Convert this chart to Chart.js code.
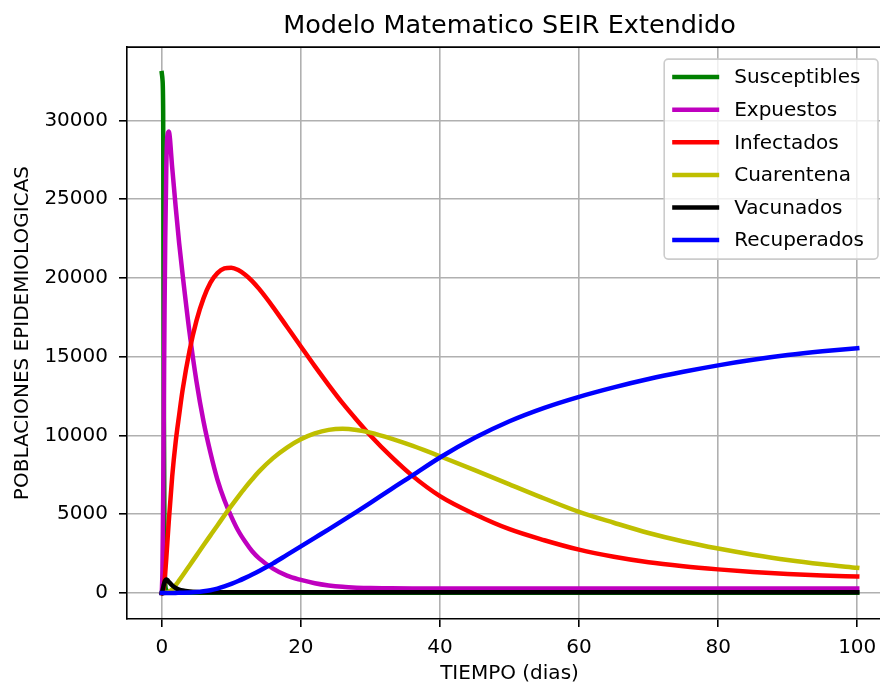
<!DOCTYPE html>
<html>
<head>
<meta charset="utf-8">
<script src="https://cdn.jsdelivr.net/npm/chart.js@4.4.0/dist/chart.umd.min.js"></script>
<style>
  html, body { margin: 0; padding: 0; background: #fff; overflow: hidden; }
  canvas { display: block; }
</style>
</head>
<body>
<canvas id="myChart" width="900" height="687"></canvas>
<script>
// tiempo (dias) - grid used for all series
const dias = [0, 0.1, 0.2, 0.3, 0.4, 0.5, 0.65, 0.8, 1, 1.5, 2, 2.5, 3, 4, 5, 6, 7, 8, 9, 10, 11, 12, 13, 14,
  16, 18, 20, 22, 24, 26, 28, 30, 33, 36, 40, 45, 50, 55, 60, 65, 70, 75, 80, 85, 90, 95, 100];

const susceptibles = [33000, 32600, 30500, 12000, 2500, 600, 200, 100, 60, 30, 20, 15, 12,
  10, 10, 10, 10, 10, 10, 10, 10, 10, 10, 10, 10, 10, 10, 10, 10, 10, 10, 10, 10, 10,
  10, 10, 10, 10, 10, 10, 10, 10, 10, 10, 10, 10, 10];
const expuestos = [0, 1500, 6000, 12000, 18000, 22500, 27000, 29000, 29300, 27000, 24500, 22200, 20200,
  16500, 13400, 10900, 8900, 7200, 5900, 4850, 3950, 3250, 2650, 2200,
  1550, 1100, 830, 620, 480, 390, 340, 310, 295, 290,
  290, 290, 290, 290, 290, 290, 290, 290, 290, 290, 290, 290, 290];
const infectados = [0, 50, 150, 400, 800, 1300, 2200, 3200, 4500, 7400, 9600, 11300, 12900,
  15400, 17300, 18700, 19700, 20300, 20600, 20650, 20500, 20200, 19800, 19300,
  18150, 16900, 15650, 14400, 13200, 12050, 11000, 10000, 8650, 7450,
  6150, 5000, 4050, 3350, 2750, 2300, 1950, 1700, 1500, 1330, 1200, 1110, 1050];
const cuarentena = [0, 0, 0, 0, 5, 10, 20, 35, 60, 230, 500, 800, 1110,
  1750, 2390, 3030, 3660, 4290, 4920, 5530, 6120, 6690, 7220, 7720,
  8560, 9230, 9755, 10130, 10355, 10425, 10350, 10180, 9800, 9350,
  8680, 7800, 6900, 6000, 5150, 4460, 3810, 3270, 2820, 2430, 2090, 1820, 1600];
const vacunados = [0, 150, 350, 550, 700, 800, 850, 820, 720, 480, 320, 220, 160,
  100, 70, 55, 50, 50, 50, 50, 50, 50, 50, 50, 50, 50, 50, 50, 50, 50, 50, 50, 50, 50,
  50, 50, 50, 50, 50, 50, 50, 50, 50, 50, 50, 50, 50];
const recuperados = [0, 0, 0, 0, 0, 0, 0, 0, 0, 2, 5, 10, 15,
  30, 60, 110, 180, 280, 420, 580, 760, 960, 1170, 1400,
  1880, 2420, 2960, 3500, 4040, 4590, 5150, 5720, 6600, 7450,
  8600, 9850, 10900, 11750, 12450, 13050, 13580, 14040, 14450, 14800, 15100, 15340, 15540];

const xTicks = [0, 20, 40, 60, 80, 100];
const yTicks = [0, 5000, 10000, 15000, 20000, 25000, 30000];

const FONT = "'DejaVu Sans', sans-serif";
Chart.defaults.font.family = FONT;
Chart.defaults.color = "#000";

function serie(label, values, color, order) {
  return {
    label: label,
    data: dias.map((t, i) => ({ x: t, y: values[i] })),
    borderColor: color,
    backgroundColor: color,
    borderWidth: 4.5,
    pointRadius: 0,
    fill: false,
    cubicInterpolationMode: "monotone",
    borderCapStyle: "square",
    borderJoinStyle: "round",
    order: order,
  };
}

// top / right spines (matplotlib box)
const spines = {
  id: "spines",
  afterDatasetsDraw(chart) {
    const { ctx, chartArea: a } = chart;
    ctx.save();
    ctx.strokeStyle = "#000";
    ctx.lineWidth = 1.6;
    ctx.beginPath();
    ctx.moveTo(a.left, a.top);
    ctx.lineTo(a.right, a.top);
    ctx.lineTo(a.right, a.bottom);
    ctx.stroke();
    ctx.restore();
  },
};

// legend drawn inside the plot, upper right
const legendBox = {
  id: "legendBox",
  afterDraw(chart) {
    const { ctx, chartArea: a } = chart;
    const sets = chart.data.datasets;
    ctx.save();
    ctx.font = "20px " + FONT;
    let textW = Math.max(...sets.map((d) => ctx.measureText(d.label).width));
    let w = 8 + 47 + 15 + textW + 14;
    let h = 200;
    let x = a.right - 14 - w;
    let y = a.top + 12;
    ctx.beginPath();
    ctx.roundRect(x, y, w, h, 4);
    ctx.fillStyle = "rgba(255,255,255,0.8)";
    ctx.fill();
    ctx.strokeStyle = "#cccccc";
    ctx.lineWidth = 1.6;
    ctx.stroke();
    sets.forEach((d, i) => {
      let cy = y + 18 + i * 32.6;
      ctx.strokeStyle = d.borderColor;
      ctx.lineWidth = 4.5;
      ctx.beginPath();
      ctx.moveTo(x + 8, cy);
      ctx.lineTo(x + 55, cy);
      ctx.stroke();
      ctx.fillStyle = "#000";
      ctx.textBaseline = "middle";
      ctx.fillText(d.label, x + 70, cy + 1);
    });
    ctx.restore();
  },
};

new Chart("myChart", {
  type: "line",
  data: {
    datasets: [
      serie("Susceptibles", susceptibles, "#008000", 6),
      serie("Expuestos", expuestos, "#bf00bf", 5),
      serie("Infectados", infectados, "#ff0000", 4),
      serie("Cuarentena", cuarentena, "#bfbf00", 3),
      serie("Vacunados", vacunados, "#000000", 2),
      serie("Recuperados", recuperados, "#0000ff", 1),
    ],
  },
  options: {
    responsive: false,
    animation: false,
    layout: { padding: { left: 0, right: 8, top: 0, bottom: 0 } },
    plugins: {
      legend: { display: false },
      tooltip: { enabled: false },
      title: {
        display: true,
        text: "Modelo Matematico SEIR Extendido",
        fullSize: false,
        color: "#000",
        font: { size: 25.5, weight: "normal" },
        padding: { top: 11, bottom: 5.5 },
      },
    },
    scales: {
      x: {
        type: "linear",
        min: -5,
        max: 105,
        afterBuildTicks: (axis) => { axis.ticks = xTicks.map((v) => ({ value: v })); },
        afterFit: (scale) => { scale.height = 68; },
        ticks: { font: { size: 20 }, color: "#000", padding: 9, maxRotation: 0, autoSkip: false,
          callback: (v) => String(v) },
        grid: { color: "#b0b0b0", lineWidth: 1.6, tickLength: 8, tickColor: "#000", tickWidth: 1.6 },
        border: { color: "#000", width: 1.6 },
        title: { display: true, text: "TIEMPO (dias)", color: "#000", font: { size: 20 }, padding: { top: 0, bottom: 1 } },
      },
      y: {
        type: "linear",
        min: -1650,
        max: 34650,
        afterBuildTicks: (axis) => { axis.ticks = yTicks.map((v) => ({ value: v })); },
        afterFit: (scale) => { scale.width = 127; },
        ticks: { font: { size: 20 }, color: "#000", padding: 11, callback: (v) => String(v) },
        grid: { color: "#b0b0b0", lineWidth: 1.6, tickLength: 8, tickColor: "#000", tickWidth: 1.6 },
        border: { color: "#000", width: 1.6 },
        title: { display: true, text: "POBLACIONES EPIDEMIOLOGICAS", color: "#000", font: { size: 20 }, padding: { top: 11, bottom: 0 } },
      },
    },
  },
  plugins: [spines, legendBox],
});
</script>
</body>
</html>
